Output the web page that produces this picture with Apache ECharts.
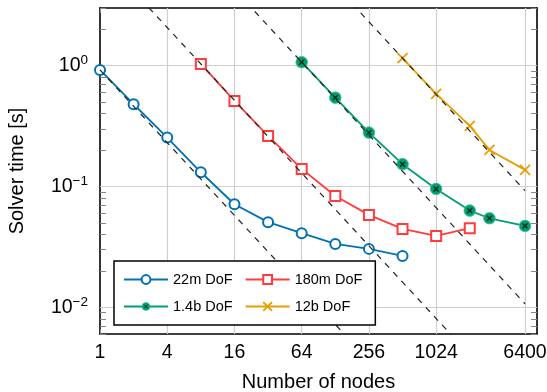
<!DOCTYPE html>
<html><head><meta charset="utf-8">
<script src="https://cdn.jsdelivr.net/npm/echarts@6/dist/echarts.min.js"></script>
<style>html,body{margin:0;padding:0;background:#fff}#c{width:547px;height:392px}</style>
</head><body><div id="c"></div>
<script>
// ---- data ----
const seriesNames = ['22m DoF', '180m DoF', '1.4b DoF', '12b DoF'];
const nodes22m = [1, 2, 4, 8, 16, 32, 64, 128, 256, 512];
const time22m = [0.921, 0.479, 0.254, 0.131, 0.0712, 0.0506, 0.0410, 0.0334, 0.0304, 0.0266];
const nodes180m = [8, 16, 32, 64, 128, 256, 512, 1024, 2048];
const time180m = [1.033, 0.510, 0.262, 0.1396, 0.0834, 0.0581, 0.0445, 0.0389, 0.0451];
const nodes1p4b = [64, 128, 256, 512, 1024, 2048, 3072, 6400];
const time1p4b = [1.067, 0.543, 0.279, 0.1527, 0.0953, 0.0631, 0.0545, 0.0471];
const nodes12b = [512, 1024, 2048, 3072, 6400];
const time12b = [1.152, 0.583, 0.317, 0.2005, 0.137];
// ideal (linear) scaling reference lines: endpoints in nodes / time
const idealNodes = [1, 6400];
const ideal22m = [0.921, 0.000144];
const ideal180m = [8.26, 0.00129];
const ideal1p4b = [68.3, 0.01067];
const ideal12b = [590, 0.0922];
const xTickValues = [1, 4, 16, 64, 256, 1024, 6400];
const yTickValues = [0.01, 0.1, 1];
const yMinorTickValues = [0.006, 0.007, 0.008, 0.009,
  0.02, 0.03, 0.04, 0.05, 0.06, 0.07, 0.08, 0.09,
  0.2, 0.3, 0.4, 0.5, 0.6, 0.7, 0.8, 0.9, 2, 3];

// ---- styling ----
const BLUE = '#0072B2', RED = '#FF3B3B', GREEN = '#009E73', ORANGE = '#E69F00';
const FONT = 'Liberation Sans';
const GRID = '#cfcfcf';
const greenMark = 'image://data:image/svg+xml;utf8,' + encodeURIComponent(
  "<svg xmlns='http://www.w3.org/2000/svg' width='24' height='24' viewBox='0 0 24 24'>" +
  "<circle cx='12' cy='12' r='10.8' fill='#009E73' stroke='#4fbf9c' stroke-width='1.6'/>" +
  "<g stroke='#002a1a' stroke-width='2.6'><line x1='7.5' y1='7.5' x2='16.5' y2='16.5'/><line x1='16.5' y1='7.5' x2='7.5' y2='16.5'/></g>" +
  "</svg>");
const crossMark = 'path://M0,0L10,10M0,10L10,0';

const zip = (xs, ys) => xs.map((x, i) => [x, ys[i]]);
const idealSeries = (name, ys) => ({
  name: name, type: 'line', data: zip(idealNodes, ys), symbol: 'none', silent: true, z: 5,
  lineStyle: { color: '#222', width: 1.2, type: [6, 6] }
});

const chart = echarts.init(document.getElementById('c'), null, { renderer: 'canvas' });
const axisLineStyle = { show: true, onZero: false, lineStyle: { color: '#000', width: 1.6 } };
chart.setOption({
  animation: false,
  backgroundColor: '#fff',
  textStyle: { fontFamily: FONT },
  grid: { left: 100, right: 10, top: 8, bottom: 58, containLabel: false, outerBoundsMode: 'none' },
  legend: {
    data: seriesNames, left: 114, top: 261, orient: 'horizontal', width: 244, z: 10,
    itemWidth: 44, itemHeight: 11, itemGap: 12, padding: [11, 13, 11, 9],
    borderColor: '#000', borderWidth: 1.5, backgroundColor: '#fff', borderRadius: 0,
    textStyle: { fontSize: 14.5, color: '#000', fontFamily: FONT }
  },
  xAxis: [{
    type: 'log', logBase: 2, min: 1, max: 8192, position: 'bottom',
    axisLine: axisLineStyle,
    axisTick: { show: true, inside: true, length: 5, customValues: xTickValues, lineStyle: { color: '#888' } },
    axisLabel: { customValues: xTickValues, fontSize: 19.5, color: '#000', margin: 9, fontFamily: FONT,
      formatter: v => String(Math.round(v)) },
    splitLine: { show: false },
    name: 'Number of nodes', nameLocation: 'middle', nameGap: 38,
    nameTextStyle: { fontSize: 20, color: '#000', fontFamily: FONT }
  }, {
    type: 'log', logBase: 2, min: 1, max: 8192, position: 'top',
    axisLine: axisLineStyle,
    axisTick: { show: true, inside: true, length: 5, customValues: xTickValues, lineStyle: { color: '#888' } },
    axisLabel: { show: false }, splitLine: { show: false }
  }],
  yAxis: [{
    type: 'log', logBase: 10, min: 0.006, max: 3, position: 'left',
    axisLine: axisLineStyle,
    axisTick: { show: true, inside: true, length: 6, customValues: yTickValues, lineStyle: { color: '#888' } },
    axisLabel: { customValues: yTickValues, margin: 12, color: '#000',
      formatter: v => { const e = Math.round(Math.log10(v)); return '{b|10}{s|' + (e < 0 ? '\u2212' + (-e) : e) + '}'; },
      rich: { b: { fontSize: 19.5, color: '#000', fontFamily: FONT },
              s: { fontSize: 13.5, color: '#000', fontFamily: FONT, padding: [0, 0, 10, 0] } } },
    splitLine: { show: false },
    name: 'Solver time [s]', nameLocation: 'middle', nameGap: 73,
    nameTextStyle: { fontSize: 20, color: '#000', fontFamily: FONT }
  }, {
    type: 'log', logBase: 10, min: 0.006, max: 3, position: 'left', offset: 0,
    axisLine: { show: false },
    axisTick: { show: true, inside: true, length: 6, customValues: yMinorTickValues, lineStyle: { color: '#888' } },
    axisLabel: { show: false }, splitLine: { show: false }
  }, {
    type: 'log', logBase: 10, min: 0.006, max: 3, position: 'right',
    axisLine: axisLineStyle,
    axisTick: { show: true, inside: true, length: 6, customValues: yMinorTickValues.concat(yTickValues), lineStyle: { color: '#888' } },
    axisLabel: { show: false }, splitLine: { show: false }
  }],
  series: [
    { name: 'grid', type: 'line', data: [], z: 1, silent: true,
      markLine: { silent: true, z: 1, symbol: 'none', label: { show: false }, animation: false,
        lineStyle: { color: GRID, width: 1.2, type: 'solid' },
        data: xTickValues.filter(v => v > 1).map(v => ({ xAxis: v }))
          .concat(yTickValues.map(v => ({ yAxis: v }))) } },
    { name: seriesNames[0], type: 'line', data: zip(nodes22m, time22m), z: 3,
      symbol: 'emptyCircle', symbolSize: 10,
      lineStyle: { color: BLUE, width: 1.8 }, itemStyle: { color: BLUE, borderColor: BLUE, borderWidth: 1.8 } },
    { name: seriesNames[1], type: 'line', data: zip(nodes180m, time180m), z: 3,
      symbol: 'emptyRect', symbolSize: 10,
      lineStyle: { color: RED, width: 1.8 }, itemStyle: { color: RED, borderColor: RED, borderWidth: 1.8 } },
    { name: seriesNames[2], type: 'line', data: zip(nodes1p4b, time1p4b), z: 3,
      symbol: greenMark, symbolSize: 13,
      lineStyle: { color: GREEN, width: 1.8 }, itemStyle: { color: GREEN } },
    { name: seriesNames[3], type: 'line', data: zip(nodes12b, time12b), z: 3,
      symbol: crossMark, symbolSize: 10,
      lineStyle: { color: ORANGE, width: 1.8 }, itemStyle: { color: ORANGE, borderColor: ORANGE, borderWidth: 1.8 } },
    idealSeries('ideal 22m', ideal22m),
    idealSeries('ideal 180m', ideal180m),
    idealSeries('ideal 1.4b', ideal1p4b),
    idealSeries('ideal 12b', ideal12b)
  ]
});
</script></body></html>
